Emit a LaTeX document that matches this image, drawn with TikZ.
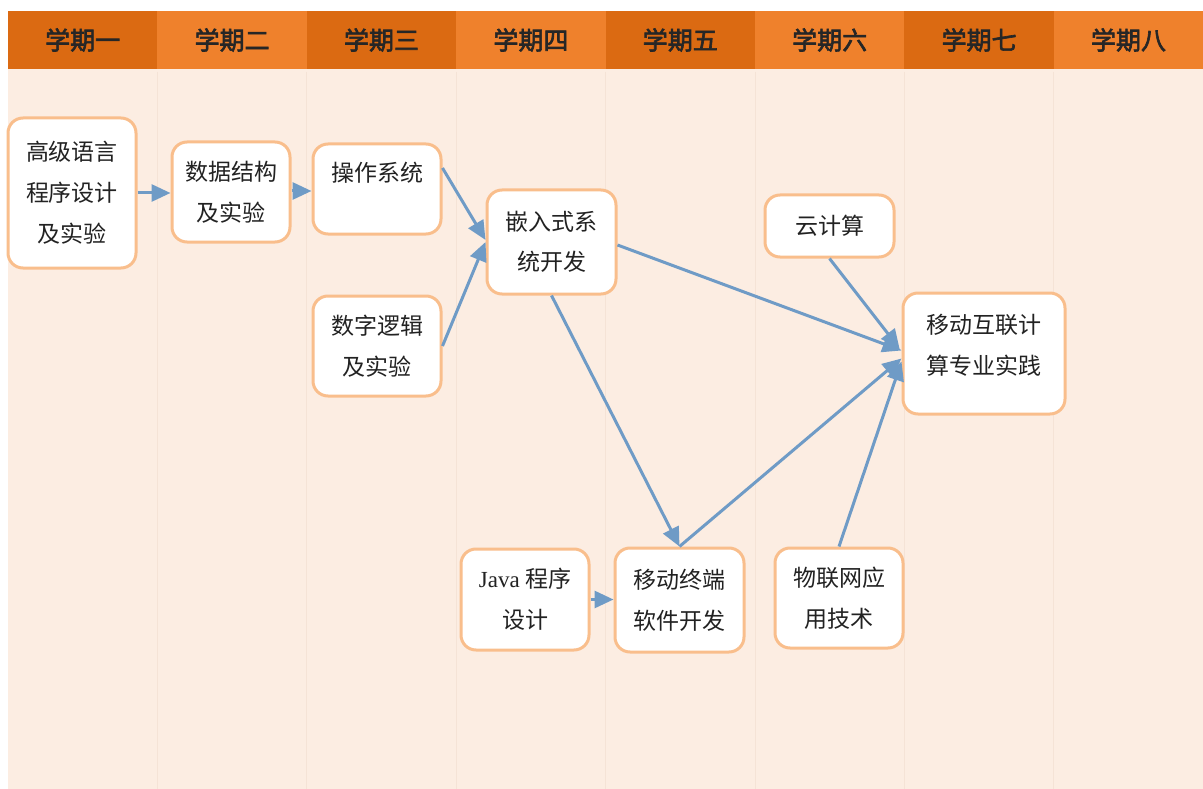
\documentclass[tikz,border=0pt]{standalone}
\usepackage{fontspec}
\setmainfont{Liberation Serif}
\newfontfamily\cjk{Noto Sans CJK SC}
\newfontfamily\cjkhead[FakeBold=2.5]{Noto Sans CJK SC}
\usetikzlibrary{arrows.meta,calc}
\definecolor{hdark}{HTML}{DB6A12}
\definecolor{hlight}{HTML}{EF812C}
\definecolor{bodybg}{HTML}{FCEDE2}
\definecolor{gridln}{HTML}{F5E3D6}
\definecolor{boxline}{HTML}{F9BE8C}
\definecolor{arrowc}{HTML}{6F9BC6}
\definecolor{txt}{HTML}{222222}
\tikzset{
  course/.style={draw=boxline, line width=3pt, fill=white, rounded corners=15pt,
    align=center, inner sep=0pt, text=txt, font=\cjk\fontsize{23}{41}\selectfont},
  flow/.style={draw=arrowc, line width=3pt, -{Triangle[length=19pt,width=17pt]}},
  headtxt/.style={font=\cjkhead\fontsize{25}{28}\selectfont, text=black!85},
}
\begin{document}
\begin{tikzpicture}[x=1pt,y=-1pt]
\useasboundingbox (0,0) rectangle (1203,789);
\fill[white] (0,0) rectangle (1203,789);
\fill[bodybg] (8,69) rectangle (1203,789);
% header
\foreach \i/\lab in {0/一,1/二,2/三,3/四,4/五,5/六,6/七,7/八}{
  \pgfmathsetmacro{\xa}{8+\i*149.4}
  \pgfmathsetmacro{\xb}{8+(\i+1)*149.4}
  \pgfmathtruncatemacro{\odd}{mod(\i,2)}
  \ifnum\odd=0 \fill[hdark] (\xa,11) rectangle (\xb,69);
  \else \fill[hlight] (\xa,11) rectangle (\xb,69); \fi
  \node[headtxt] (h\i) at ({(\xa+\xb)/2},40) {学期\lab};
}
\foreach \i in {1,...,7}{
  \pgfmathsetmacro{\xa}{8+\i*149.4}
  \draw[gridln, line width=1pt] (\xa,72) -- (\xa,789);
}
% nodes
\node[course, minimum width=128pt, minimum height=150pt] (n1) at (72,193) {高级语言\\程序设计\\及实验};
\node[course, minimum width=118pt, minimum height=100pt] (n2) at (231,192) {数据结构\\及实验};
\node[course, minimum width=128pt, minimum height=90pt] (n3) at (377,189) {操作系统\\[-6pt]\mbox{}};
\node[course, minimum width=128pt, minimum height=100pt] (n4) at (377,346) {数字逻辑\\及实验};
\node[course, minimum width=129pt, minimum height=104pt, font=\cjk\fontsize{23}{40}\selectfont] (n5) at (551.5,242) {嵌入式系\\统开发};
\node[course, minimum width=129pt, minimum height=62pt] (n6) at (829.5,226) {云计算};
\node[course, minimum width=162pt, minimum height=121pt] (n7) at (984,353.5) {移动互联计\\算专业实践\\[-22pt]\mbox{}};
\node[course, minimum width=128pt, minimum height=101pt] (n8) at (525,599.5) {{\rmfamily Java} 程序\\设计};
\node[course, minimum width=129pt, minimum height=104pt] (n9) at (679.5,600) {移动终端\\软件开发};
\node[course, minimum width=128pt, minimum height=100pt] (n10) at (839,598) {物联网应\\用技术};
% connectors
\draw[flow] (n1.east) -- (n1.east -| n2.west);
\draw[flow] ([yshift=1pt]n2.east) -- ([yshift=1pt]n2.east -| n3.west);
\draw[flow] ([yshift=21pt]n3.east) -- ([yshift=2pt]n5.west);
\draw[flow] (n4.east) -- (n5.west);
\draw[flow] ([yshift=-3pt]n5.east) -- ([yshift=3pt]n7.west);
\draw[flow] (n5.south) -- (n9.north);
\draw[flow] (n9.north) -- ([yshift=-5pt]n7.west);
\draw[flow] (n6.south) -- ([yshift=5pt,xshift=-2pt]n7.west);
\draw[flow] (n10.north) -- ([yshift=-8pt]n7.west);
\draw[flow] (n8.east) -- (n8.east -| n9.west);
\end{tikzpicture}
\end{document}
